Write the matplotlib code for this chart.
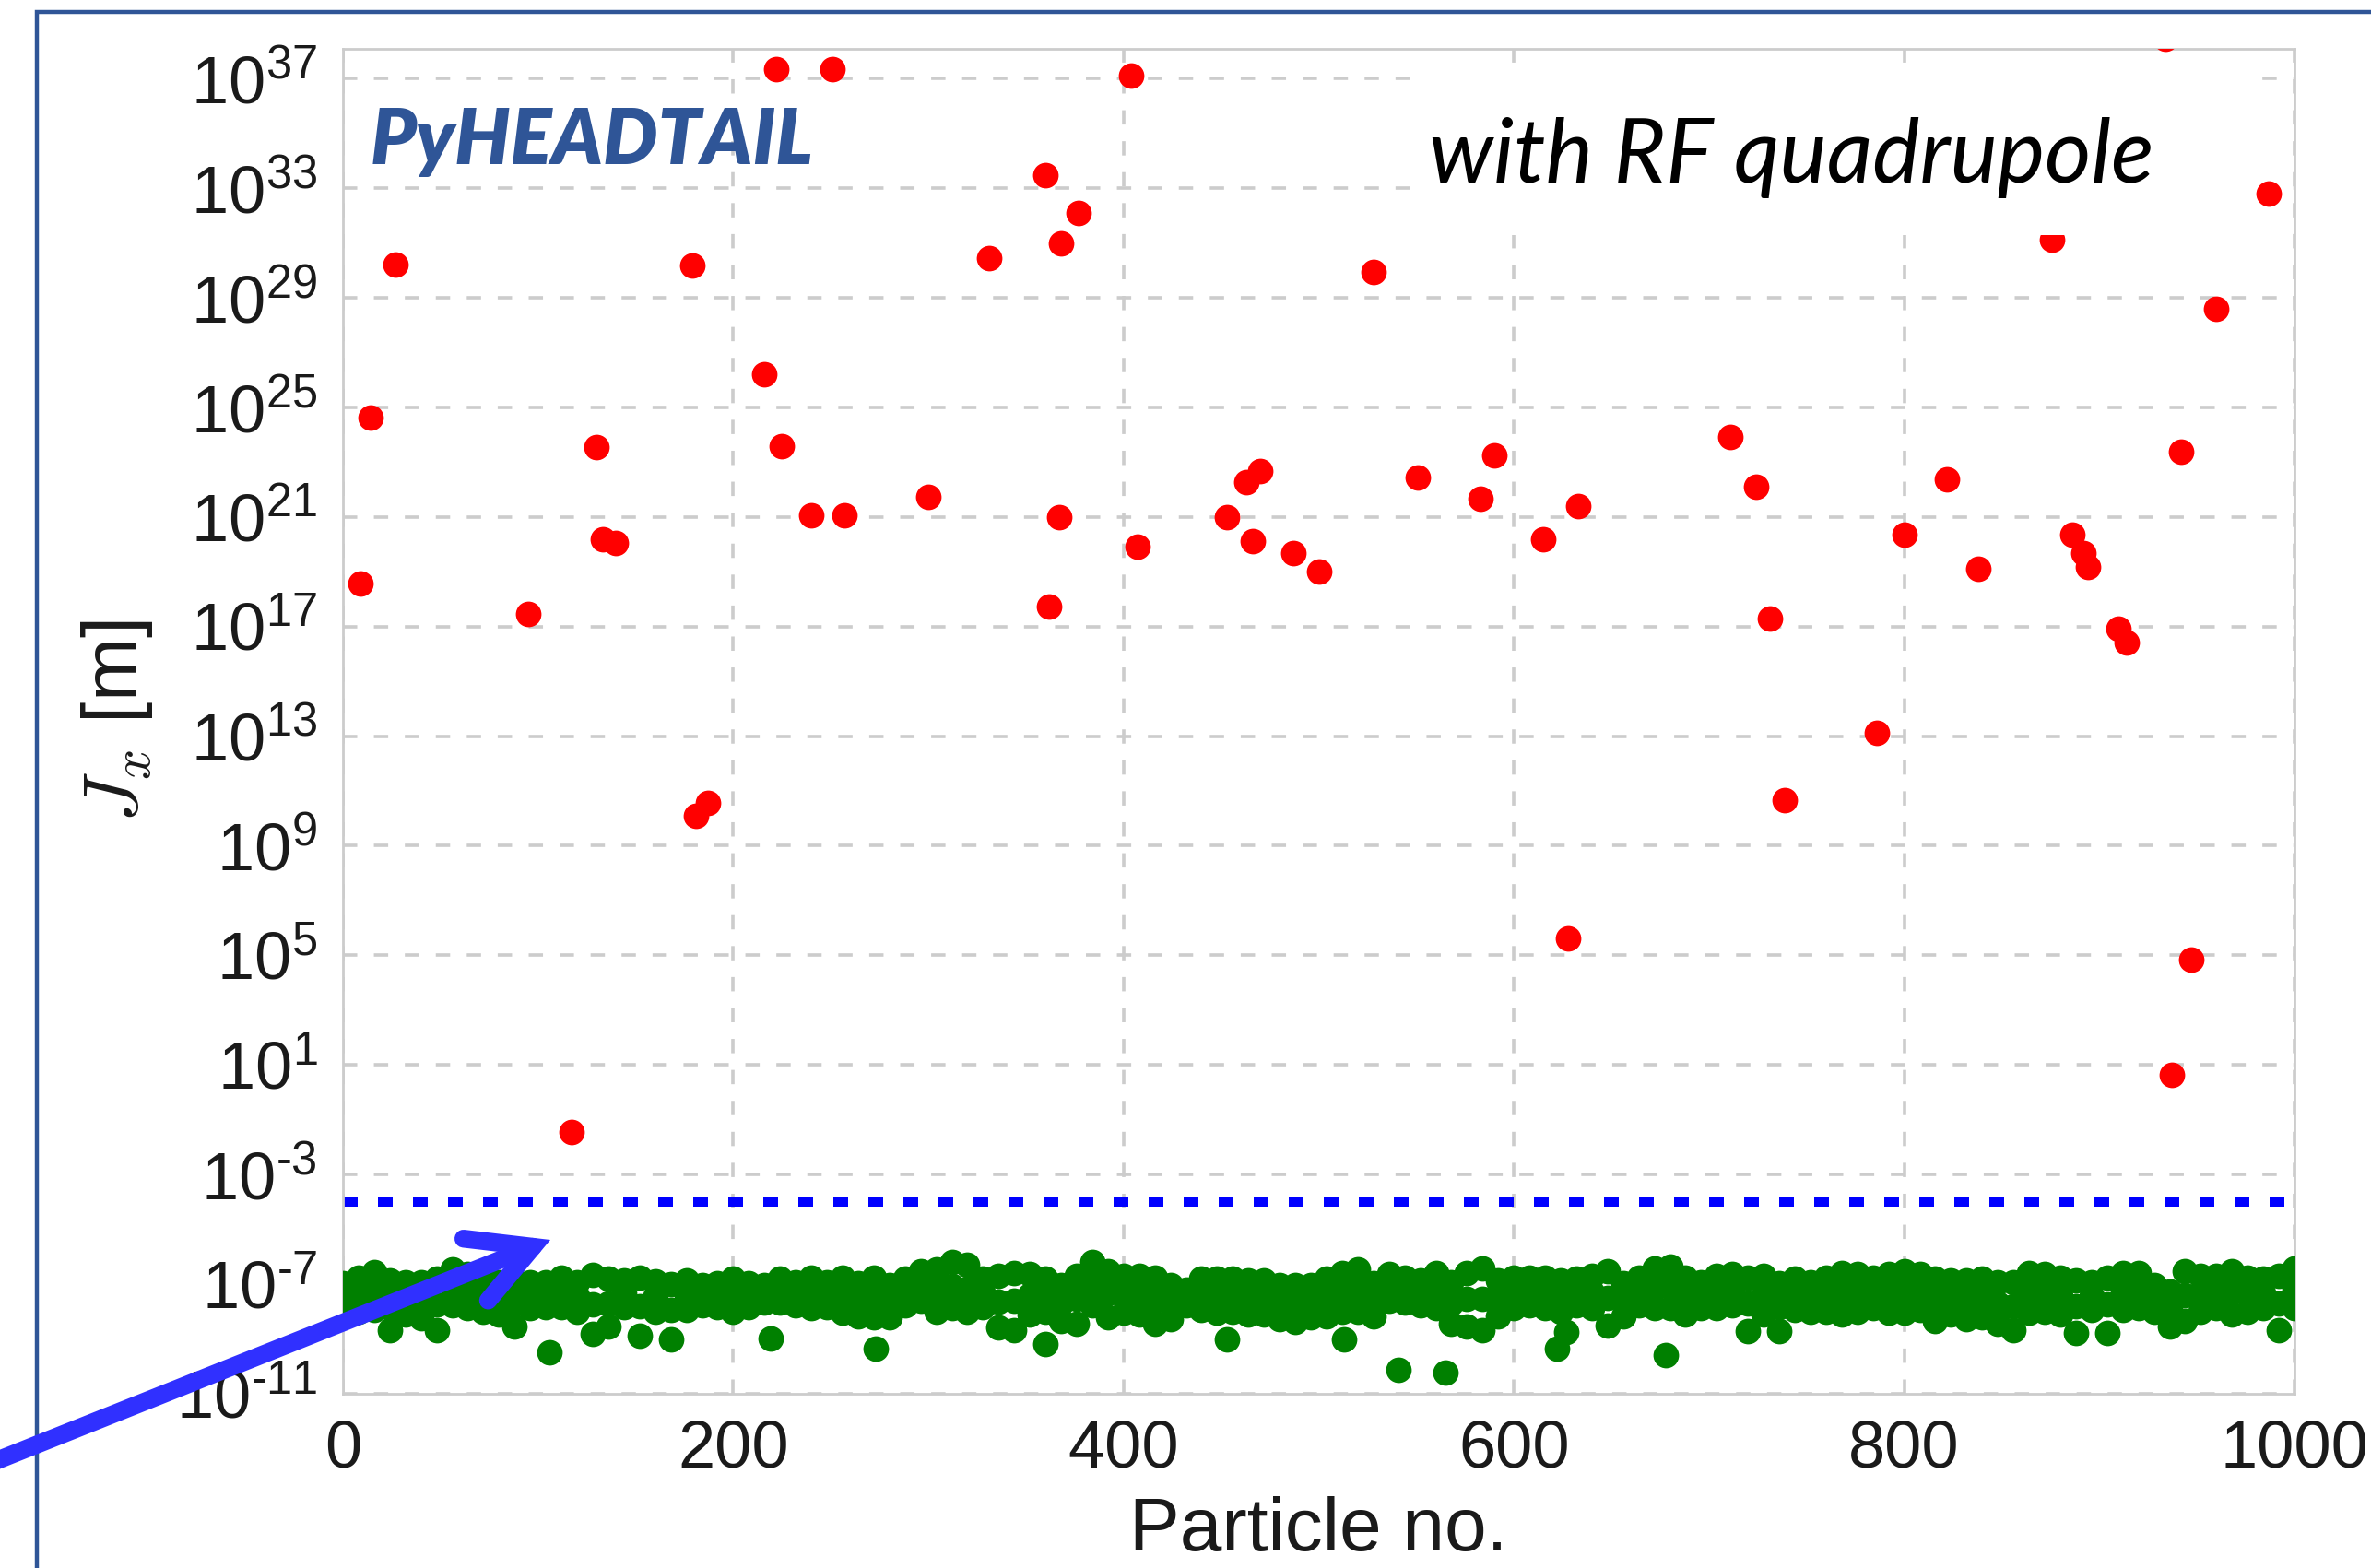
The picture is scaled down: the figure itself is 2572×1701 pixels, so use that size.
import numpy as np
import matplotlib
matplotlib.use('Agg')
import matplotlib.pyplot as plt
from matplotlib.patches import FancyArrowPatch, Rectangle, ArrowStyle
from matplotlib.lines import Line2D
from matplotlib.ticker import NullLocator, FuncFormatter

W, H = 2572, 1701  # output size in pixels

plt.rcParams['font.family'] = ['Liberation Sans', 'DejaVu Sans']
plt.rcParams['mathtext.fontset'] = 'cm'
plt.rcParams['axes.unicode_minus'] = False

# unstable particles: particle number and log10(J_x)
red_no = [9, 14, 27, 95, 117, 130, 133, 140, 179, 181, 187, 216, 222, 225, 240,
          251, 257, 300, 331, 360, 362, 367, 368, 377, 404, 407, 453, 463, 466, 470,
          487, 500, 528, 551, 583, 590, 615, 628, 633, 711, 724, 731, 739, 786, 800,
          822, 838, 876, 886, 892, 894, 910, 914, 934, 937, 942, 947, 960, 987]
red_exp = [18.57, 24.64, 30.21, 17.47, -1.46, 23.54, 20.17, 20.06, 30.16, 10.08,
           10.57, 26.19, 37.33, 23.59, 21.06, 37.33, 21.06, 21.72, 30.43, 33.47,
           17.74, 21.0, 30.99, 32.09, 37.11, 19.90, 21.0, 22.27, 20.12, 22.66,
           19.68, 19.01, 29.94, 22.43, 21.66, 23.26, 20.17, 5.61, 21.39, 23.92,
           22.10, 17.30, 10.68, 13.11, 20.34, 22.38, 19.12, 31.10, 20.34, 19.68,
           19.18, 16.92, 16.42, 38.45, 0.64, 23.37, 4.83, 28.61, 32.81]

# stable particles: the dense band read as upper edge / core / lower edge
green_no = list(range(0, 1001, 8))
green_top = [-6.97, -6.75, -6.56, -6.86, -6.92, -6.92, -6.78, -6.47, -6.64, -6.86,
             -6.92, -6.86, -6.92, -6.92, -6.75, -6.92, -6.67, -6.81, -6.86, -6.75,
             -6.90, -7.01, -6.86, -7.03, -6.97,
             -6.81, -6.97, -7.03, -6.81, -6.92, -6.75, -6.92, -6.75, -6.97, -6.75,
             -7.03, -6.81, -6.53, -6.47, -6.19, -6.30, -6.81, -6.69, -6.58, -6.64,
             -6.81, -7.03, -6.69, -6.19, -6.53,
             -6.69, -6.69, -6.75, -7.03, -7.20, -6.78, -6.81, -6.81, -6.86, -6.86,
             -7.03, -7.03, -7.03, -6.81, -6.58, -6.47, -6.97, -6.64, -6.75, -6.86,
             -6.58, -6.92, -6.58, -6.41, -6.86,
             -6.75, -6.75, -6.75, -6.86, -6.81, -6.69, -6.53, -6.97, -6.75, -6.41,
             -6.36, -6.75, -6.92, -6.69, -6.64, -6.75, -6.69, -6.97, -6.81, -6.92,
             -6.75, -6.58, -6.64, -6.75, -6.64,
             -6.53, -6.64, -6.81, -6.86, -6.86, -6.81, -6.92, -6.92, -6.58, -6.64,
             -6.75, -6.86, -6.92, -6.75, -6.58, -6.58, -7.03, -7.25, -6.53, -6.69,
             -6.69, -6.53, -6.75, -6.81, -6.69, -6.41]
green_mid = [-7.4, -7.4, -7.3, -7.4, -7.5, -7.55, -7.75, -7.1, -7.25, -7.4,
             -7.5, -7.7, -7.4, -7.4, -7.3, -7.45, -7.75, -7.7, -7.35, -7.8,
             -7.45, -7.95, -7.4, -7.4, -7.4,
             -7.4, -7.4, -7.35, -7.25, -7.35, -7.3, -7.4, -7.4, -7.55, -7.5,
             -7.6, -7.3, -7.05, -7.2, -7.05, -7.15, -7.3, -7.65, -7.6, -7.4,
             -7.4, -7.7, -7.55, -7.0, -7.35,
             -7.4, -7.4, -7.6, -7.65, -7.5, -7.35, -7.45, -7.4, -7.5, -7.5,
             -7.65, -7.7, -7.6, -7.5, -7.3, -7.25, -7.55, -7.1, -7.2, -7.3,
             -7.25, -7.7, -7.55, -7.55, -7.5,
             -7.3, -7.25, -7.3, -7.4, -7.3, -7.3, -7.5, -7.55, -7.25, -7.15,
             -7.1, -7.45, -7.4, -7.3, -7.2, -7.7, -7.4, -7.85, -7.4, -7.45,
             -7.35, -7.35, -7.3, -7.3, -7.35,
             -7.3, -7.3, -7.55, -7.5, -7.55, -7.5, -7.7, -7.8, -7.3, -7.3,
             -7.45, -7.8, -7.45, -7.75, -7.25, -7.25, -7.5, -7.9, -7.4, -7.35,
             -7.3, -7.3, -7.35, -7.35, -7.7, -7.15]
green_bot = [-7.77, -7.99, -7.94, -7.88, -8.11, -8.24, -8.69, -7.77, -7.88, -7.99,
             -8.11, -8.55, -7.88, -7.83, -7.83, -7.99, -8.83, -8.55, -7.83, -8.89,
             -7.99, -9.00, -7.94, -7.77, -7.83,
             -7.99, -7.83, -7.66, -7.66, -7.77, -7.88, -7.83, -8.05, -8.16, -8.22,
             -8.22, -7.77, -7.60, -7.99, -7.88, -7.99, -7.83, -8.58, -8.67, -8.11,
             -7.99, -8.33, -8.44, -7.77, -8.22,
             -8.05, -8.11, -8.44, -8.27, -7.77, -7.94, -8.05, -7.99, -8.11, -8.11,
             -8.27, -8.39, -8.22, -8.16, -7.99, -7.99, -8.16, -7.60, -7.66, -7.77,
             -7.88, -8.44, -8.55, -8.67, -8.16,
             -7.88, -7.77, -7.88, -7.99, -7.77, -7.88, -8.50, -8.16, -7.77, -7.88,
             -7.88, -8.11, -7.88, -7.88, -7.77, -8.72, -8.11, -8.72, -7.94, -7.99,
             -7.99, -8.11, -7.99, -7.88, -8.05,
             -8.05, -7.94, -8.33, -8.11, -8.27, -8.22, -8.44, -8.67, -8.05, -7.99,
             -8.11, -8.78, -7.94, -8.78, -7.94, -7.88, -7.99, -8.55, -8.33, -7.99,
             -7.88, -8.11, -7.99, -7.88, -8.67, -7.88]
# isolated low points below the band
green_low_no = [24, 106, 219, 273, 360, 453, 513, 541, 565, 622, 627, 678]
green_low = [-8.69, -9.50, -8.99, -9.34, -9.19, -9.00, -9.00, -10.11, -10.23,
             -9.36, -8.75, -9.59]

threshold = 1e-4


def log_label(v, pos):
    k = int(round(np.log10(v)))
    return r'$\mathdefault{10^{%s}}$' % str(k).replace('-', '\u2010')


fig = plt.figure(figsize=(W / 200, H / 200), dpi=200)
ax = fig.add_axes([372 / W, 1 - 1512 / H, (2489 - 372) / W, (1512 - 53) / H])

mk = dict(ls='none', marker='o', ms=10, mew=0, zorder=3)
for xs, ys in [(green_no, green_mid), (green_no, green_top),
               (green_no, green_bot), (green_low_no, green_low)]:
    ax.plot(xs, 10.0 ** np.array(ys), color='green', **mk)
ax.plot(red_no, 10.0 ** np.array(red_exp), color='red', **mk)
ax.axhline(threshold, color='blue', lw=3.6, ls=(0, (1.6, 2.2)), zorder=2)

ax.set_yscale('log')
ax.set_xlim(0, 1000)
ax.set_ylim(1e-11, 10 ** 38.08)
ax.set_yticks([10.0 ** k for k in range(-11, 38, 4)])
ax.yaxis.set_major_formatter(FuncFormatter(log_label))
ax.yaxis.set_minor_locator(NullLocator())
ax.set_xticks(range(0, 1001, 200))
ax.grid(True, color='#cccccc', lw=1.3, ls=(0, (4.3, 5)))
ax.set_axisbelow(True)
for s in ax.spines.values():
    s.set_color('#cccccc')
    s.set_linewidth(1.0)
ax.tick_params(length=0, labelsize=26, colors='#1a1a1a')
ax.tick_params(axis='x', pad=10)
ax.tick_params(axis='y', pad=10)
ax.set_xlabel('Particle no.', fontsize=29.5, labelpad=6, color='#1a1a1a')
ax.set_ylabel(r'$J_x$ [m]', fontsize=30, labelpad=8, color='#1a1a1a')

# white box behind the annotation text
fig.add_artist(Rectangle((1530 / W, 1 - 255 / H), (2442 - 1530) / W, (255 - 70) / H,
                         transform=fig.transFigure, fc='white', ec='none', zorder=1))
t1 = fig.text(402 / W, 1 - 178 / H, 'PyHEADTAIL', color='#2F5597', fontsize=30,
              fontweight='heavy', style='italic', family='Lato', va='baseline', zorder=3)
t2 = fig.text(1550 / W, 1 - 198 / H, 'with RF quadrupole', color='black', fontsize=33,
              style='italic', family='Lato', va='baseline', zorder=3)

fig.canvas.draw()
r = fig.canvas.get_renderer()
for t, target in [(t1, 884 - 402), (t2, 2337 - 1550)]:
    w = t.get_window_extent(r).width
    t.set_fontsize(t.get_fontsize() * target / w)

# arrow pointing at the stable band
arrow = FancyArrowPatch((-30 / W, 1 - 1595 / H), (597 / W, 1 - 1345 / H),
                        transform=fig.transFigure,
                        arrowstyle=ArrowStyle('->', head_length=24, head_width=13),
                        mutation_scale=1, shrinkA=0, shrinkB=0, lw=7,
                        color='#3030ff', capstyle='round', joinstyle='miter', zorder=5)
fig.add_artist(arrow)

# slide frame
fig.add_artist(Line2D([40 / W, 40 / W, 1.01], [-0.01, 1 - 13 / H, 1 - 13 / H],
                      transform=fig.transFigure, color='#2F5597', lw=1.6,
                      solid_joinstyle='miter'))

fig.savefig('out.png', dpi=200)
